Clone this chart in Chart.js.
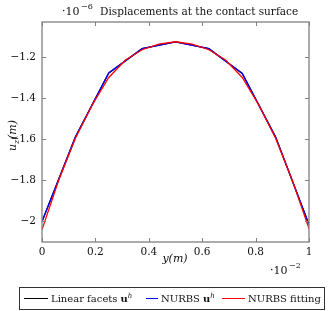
<!DOCTYPE html>
<html>
<head>
<meta charset="utf-8">
<script src="https://cdn.jsdelivr.net/npm/chart.js@4.4.1/dist/chart.umd.min.js"></script>
<style>
  html, body { margin: 0; padding: 0; background: #fff; }
  #wrap { width: 332px; height: 311px; }
</style>
</head>
<body>
<div id="wrap"><canvas id="c" width="332" height="311"></canvas></div>
<script>
// data (y in units of 1e-2 m, u_z in units of 1e-6 m)
const facetX = [0, 0.125, 0.25, 0.375, 0.5, 0.625, 0.75, 0.875, 1];
const facetY = [-2.0, -1.59, -1.278, -1.16, -1.127, -1.16, -1.28, -1.59, -2.015];
const nurbsY = [-2.0, -1.59, -1.278, -1.16, -1.127, -1.16, -1.28, -1.59, -2.015];
const fitX = [0, 0.0625, 0.125, 0.1875, 0.25, 0.3125, 0.375, 0.4375, 0.5,
              0.5625, 0.625, 0.6875, 0.75, 0.8125, 0.875, 0.9375, 1];
const fitY = [-2.04, -1.80, -1.595, -1.435, -1.30, -1.215, -1.165, -1.138, -1.126,
              -1.138, -1.165, -1.215, -1.30, -1.435, -1.595, -1.80, -2.035];
const xTicks = [0, 0.2, 0.4, 0.6, 0.8, 1];
const yTicks = [-2, -1.8, -1.6, -1.4, -1.2];
const seriesNames = ['Linear facets', 'NURBS', 'NURBS fitting'];
const seriesColors = ['#000000', '#0000ff', '#ff0000'];

const serif = '"DejaVu Serif", serif';
const pts = (xs, ys) => xs.map((x, i) => ({ x: x, y: ys[i] }));

const fmtX = v => v === 0 ? '0' : v === 1 ? '1' : v.toFixed(1);
const fmtY = v => '\u2212' + (Math.abs(v) === 2 ? '2' : Math.abs(v).toFixed(1));

// inward ticks, frame and the extra texts
const decor = {
    id: 'decor',
    afterDraw(chart) {
        const ctx = chart.ctx;
        const a = chart.chartArea;
        const xs = chart.scales.x, ys = chart.scales.y;
        ctx.save();
        ctx.strokeStyle = '#808080';
        ctx.lineWidth = 1;
        ctx.beginPath();
        xTicks.forEach(v => {
            const px = Math.round(xs.getPixelForValue(v)) + 0.5;
            ctx.moveTo(px, a.bottom); ctx.lineTo(px, a.bottom - 4);
            ctx.moveTo(px, a.top); ctx.lineTo(px, a.top + 4);
        });
        yTicks.forEach(v => {
            const py = Math.round(ys.getPixelForValue(v)) + 0.5;
            ctx.moveTo(a.left, py); ctx.lineTo(a.left + 4, py);
            ctx.moveTo(a.right, py); ctx.lineTo(a.right - 4, py);
        });
        ctx.stroke();
        ctx.lineWidth = 1.3;
        ctx.strokeRect(a.left, a.top, a.right - a.left, a.bottom - a.top);

        ctx.fillStyle = '#111';
        ctx.textBaseline = 'alphabetic';
        // title
        ctx.font = '11px ' + serif;
        ctx.textAlign = 'left';
        ctx.fillText('\u00b710', 62, 15);
        ctx.font = '8px ' + serif;
        ctx.fillText('\u22126', 81, 9);
        ctx.font = '10.5px ' + serif;
        ctx.fillText('Displacements at the contact surface', 100, 15);
        // x multiplier
        ctx.font = '11px ' + serif;
        ctx.fillText('\u00b710', 270, 274);
        ctx.font = '8px ' + serif;
        ctx.fillText('\u22122', 289, 268);
        // axis titles
        ctx.font = 'italic 11px ' + serif;
        ctx.textAlign = 'center';
        ctx.fillText('y(m)', 175, 262);
        ctx.save();
        ctx.translate(16, 135);
        ctx.rotate(-Math.PI / 2);
        ctx.textAlign = 'left';
        ctx.fillText('u', -16, 0);
        ctx.font = 'italic 8px ' + serif;
        ctx.fillText('z', -9, 3);
        ctx.font = 'italic 11px ' + serif;
        ctx.fillText('(m)', -4, 0);
        ctx.restore();

        // legend
        ctx.strokeStyle = '#333';
        ctx.lineWidth = 1;
        ctx.strokeRect(19.5, 287.5, 305, 22);
        const ly = 298.5;
        const entries = [
            { x0: 24, x1: 48, tx: 51 },
            { x0: 146, x1: 158, tx: 161 },
            { x0: 222, x1: 245, tx: 248 }
        ];
        ctx.textAlign = 'left';
        entries.forEach((e, i) => {
            ctx.strokeStyle = seriesColors[i];
            ctx.beginPath();
            ctx.moveTo(e.x0, ly); ctx.lineTo(e.x1, ly);
            ctx.stroke();
            ctx.font = '10px ' + serif;
            ctx.fillStyle = '#111';
            let x = e.tx;
            ctx.fillText(seriesNames[i], x, ly + 3.5);
            x += ctx.measureText(seriesNames[i]).width;
            if (i < 2) {
                ctx.font = 'bold 10px ' + serif;
                ctx.fillText('u', x + 3, ly + 3.5);
                x += 3 + ctx.measureText('u').width;
                ctx.font = 'italic 7px ' + serif;
                ctx.fillText('h', x, ly - 1);
            }
        });
        ctx.restore();
    }
};

new Chart(document.getElementById('c'), {
    type: 'line',
    data: {
        datasets: [
            { label: seriesNames[0], data: pts(facetX, facetY), borderColor: seriesColors[0], borderWidth: 1.3, order: 3 },
            { label: seriesNames[1], data: pts(facetX, nurbsY), borderColor: seriesColors[1], borderWidth: 1.3, order: 2 },
            { label: seriesNames[2], data: pts(fitX, fitY), borderColor: seriesColors[2], borderWidth: 1.3, order: 1 }
        ]
    },
    options: {
        responsive: false,
        animation: false,
        layout: { padding: { left: 0, right: 23, top: 22, bottom: 0 } },
        elements: { point: { radius: 0 }, line: { tension: 0 } },
        plugins: { legend: { display: false }, tooltip: { enabled: false } },
        scales: {
            x: {
                type: 'linear', min: 0, max: 1,
                grid: { display: false, drawTicks: false },
                border: { display: false },
                afterBuildTicks: s => { s.ticks = xTicks.map(v => ({ value: v })); },
                afterFit: s => { s.height = 69; },
                ticks: { callback: fmtX, maxRotation: 0, autoSkip: false, padding: 4, color: '#111',
                         font: { family: serif, size: 10.5 } }
            },
            y: {
                type: 'linear', min: -2.1, max: -1.03,
                grid: { display: false, drawTicks: false },
                border: { display: false },
                afterBuildTicks: s => { s.ticks = yTicks.map(v => ({ value: v })); },
                afterFit: s => { s.width = 42; },
                ticks: { callback: fmtY, autoSkip: false, padding: 6, color: '#111',
                         font: { family: serif, size: 10.5 } }
            }
        }
    },
    plugins: [decor]
});
</script>
</body>
</html>
